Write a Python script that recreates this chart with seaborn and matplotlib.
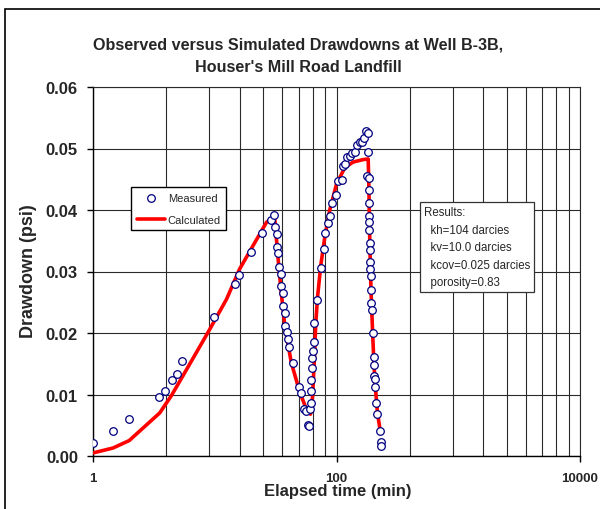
import numpy as np
import pandas as pd
import matplotlib
matplotlib.use("Agg")
import matplotlib.pyplot as plt
from matplotlib.ticker import FixedLocator, NullFormatter
from matplotlib.patches import Rectangle
import seaborn as sns

# Measured drawdowns (elapsed time in minutes, drawdown in psi)
measured_time = [1.0, 1.46, 1.98, 3.46, 3.93, 4.43, 4.87, 5.43, 9.8, 14.6, 15.7, 19.8,
                 24.6, 29.2, 30.5, 31.5, 32.3, 32.7, 32.9, 33.6, 35.1, 34.9, 36.4, 36.4,
                 37.8, 37.8, 39.3, 40.0, 40.8, 44.0, 49.0, 51.5, 54.2, 55.9, 57.8, 59.2,
                 61.1, 62.3, 62.3, 62.3, 63.5, 63.5, 64.7, 65.5, 65.9, 69.4, 74.3, 79.1,
                 80.6, 85.3, 88.6, 92.6, 98.6, 103.0, 110.0, 113.0, 118.5, 123.0, 128.5,
                 135.0, 141.0, 147.6, 155.0, 163.5, 168.6, 174.0, 180.0, 182.0, 178.0,
                 184.0, 184.0, 184.0, 184.0, 184.0, 184.0, 188.0, 188.0, 188.0, 188.0,
                 191.5, 191.5, 191.5, 194.0, 198.0, 203.0, 203.0, 203.0, 206.5, 209.0,
                 213.0, 217.0, 227.0, 230.0, 234.0]
measured_drawdown = [0.0021, 0.0041, 0.0060, 0.0096, 0.0106, 0.0124, 0.0134, 0.0154, 0.0226,
                     0.0279, 0.0295, 0.0331, 0.0363, 0.0384, 0.0392, 0.0372, 0.0361, 0.0340,
                     0.0330, 0.0308, 0.0296, 0.0276, 0.0265, 0.0244, 0.0233, 0.0212, 0.0201,
                     0.0190, 0.0178, 0.0152, 0.0113, 0.0102, 0.0076, 0.0073, 0.0051, 0.0048,
                     0.0076, 0.0086, 0.0105, 0.0124, 0.0143, 0.0160, 0.0170, 0.0186, 0.0216,
                     0.0254, 0.0306, 0.0337, 0.0363, 0.0379, 0.0390, 0.0412, 0.0424, 0.0447,
                     0.0449, 0.0472, 0.0475, 0.0486, 0.0488, 0.0492, 0.0495, 0.0506, 0.0510,
                     0.0511, 0.0517, 0.0529, 0.0526, 0.0495, 0.0456, 0.0452, 0.0433, 0.0411,
                     0.0390, 0.0380, 0.0368, 0.0347, 0.0335, 0.0315, 0.0304, 0.0293, 0.0270,
                     0.0248, 0.0237, 0.0200, 0.0161, 0.0148, 0.0130, 0.0126, 0.0113, 0.0086,
                     0.0069, 0.0041, 0.0023, 0.0016]

# Simulated drawdowns
calc_time = [1.0, 1.46, 1.98, 3.53, 4.4, 5.5, 8.8, 12.5, 16.0, 26.6, 31.0, 33.5, 35.0,
             37.6, 42.5, 49.9, 56.6, 61.1, 63.5, 65.9, 67.5, 70.0, 74.3, 80.0, 88.0,
             100.0, 117.0, 137.0, 166.0, 182.0, 184.0, 188.0, 192.0, 198.0, 203.0,
             209.0, 217.0, 227.0, 234.0]
calc_drawdown = [0.0005, 0.0013, 0.0025, 0.0070, 0.0098, 0.0131, 0.0201, 0.0255, 0.0304,
                 0.0380, 0.0389, 0.0310, 0.0270, 0.0212, 0.0152, 0.0104, 0.0076, 0.0068,
                 0.0095, 0.0160, 0.0215, 0.0260, 0.0310, 0.0355, 0.0400, 0.0442, 0.0469,
                 0.0478, 0.0482, 0.0483, 0.0450, 0.0340, 0.0270, 0.0200, 0.0150, 0.0110,
                 0.0070, 0.0045, 0.0038]

x_major = [1, 100, 10000]
x_major_labels = ["1", "100", "10000"]
y_ticks = [0.00, 0.01, 0.02, 0.03, 0.04, 0.05, 0.06]

results_lines = ["Results:", "  kh=104 darcies", "  kv=10.0 darcies",
                 "  kcov=0.025 darcies", "  porosity=0.83"]

sns.set_theme(style="white")
plt.rcParams["font.family"] = ["Liberation Sans", "DejaVu Sans"]

measured = pd.DataFrame({"t": measured_time, "dd": measured_drawdown})
calc = pd.DataFrame({"t": calc_time, "dd": calc_drawdown})

fig = plt.figure(figsize=(6.0, 5.1), dpi=100)
ax = fig.add_axes([93 / 600, 1 - 457 / 510, 487 / 600, 369 / 510])

# outer chart frame
fig.patches.append(Rectangle((5 / 600, -0.1), 1.2, 1 - 10 / 510 + 0.1,
                             transform=fig.transFigure, fill=False,
                             edgecolor="black", linewidth=1.2, zorder=0))

ax.set_xscale("log")
ax.set_xlim(1, 10000)
ax.set_ylim(0, 0.06)

# gridlines
minor_pos = [k * k * base for base in (1, 100) for k in range(2, 10)]
ax.xaxis.set_minor_locator(FixedLocator(minor_pos))
ax.xaxis.set_minor_formatter(NullFormatter())
ax.set_xticks(x_major)
ax.set_xticklabels(x_major_labels)
ax.set_yticks(y_ticks)
ax.set_yticklabels([f"{v:.2f}" for v in y_ticks])
ax.grid(True, which="both", axis="x", color="#2a2a2a", linewidth=0.8)
ax.grid(True, which="major", axis="y", color="#2a2a2a", linewidth=0.8)
ax.set_axisbelow(True)

sns.lineplot(data=calc, x="t", y="dd", ax=ax, color="#ff0000", linewidth=2.6,
             estimator=None, sort=False, label="Calculated", zorder=3)
sns.scatterplot(data=measured, x="t", y="dd", ax=ax, marker="o", s=30,
                facecolor="white", edgecolor="#000080", linewidth=0.9,
                label="Measured", zorder=4)

for side in ["left", "bottom"]:
    ax.spines[side].set_color("black")
    ax.spines[side].set_linewidth(1.0)
for side in ["top", "right"]:
    ax.spines[side].set_color("#2a2a2a")
    ax.spines[side].set_linewidth(0.8)

ax.tick_params(axis="both", which="major", direction="out", length=4.3, width=1,
               color="black", bottom=True, left=True)
ax.tick_params(axis="x", which="minor", length=0)
ax.tick_params(axis="x", which="major", labelsize=9.5, pad=7)
ax.tick_params(axis="y", which="major", labelsize=12, pad=6.5)
for lab in ax.get_xticklabels() + ax.get_yticklabels():
    lab.set_fontweight("bold")

ax.set_xlabel("Elapsed time (min)", fontsize=12, fontweight="bold")
ax.set_ylabel("Drawdown (psi)", fontsize=13, fontweight="bold")
ax.xaxis.set_label_coords((337.5 - 93) / 487, -(484 - 457) / 369)
ax.yaxis.set_label_coords((37 - 93) / 487, 1 - (271 - 88) / 369)

fig.text(0.497, 1 - 45 / 510, "Observed versus Simulated Drawdowns at Well B-3B,",
         ha="center", va="center", fontsize=11.6, fontweight="bold")
fig.text(0.497, 1 - 67 / 510, "Houser's Mill Road Landfill",
         ha="center", va="center", fontsize=11.6, fontweight="bold")

handles, labels = ax.get_legend_handles_labels()
order = [labels.index("Measured"), labels.index("Calculated")]
leg = ax.legend([handles[i] for i in order], [labels[i] for i in order],
                loc="upper left", bbox_to_anchor=((131 - 93) / 487, 1 - (188 - 88) / 369),
                borderaxespad=0, fontsize=8, frameon=True, fancybox=False,
                edgecolor="black", framealpha=1, handlelength=2.6, handletextpad=0.2,
                labelspacing=1.1, borderpad=0.5)
leg.get_frame().set_linewidth(1.0)

ax.text((424 - 93) / 487, 1 - (207 - 88) / 369, "\n".join(results_lines),
        transform=ax.transAxes, ha="left", va="top", fontsize=8.3, linespacing=1.62,
        bbox=dict(boxstyle="square,pad=0.35", facecolor="white", edgecolor="#333333",
                  linewidth=0.9), zorder=5)

fig.savefig("out.png", dpi=100)
